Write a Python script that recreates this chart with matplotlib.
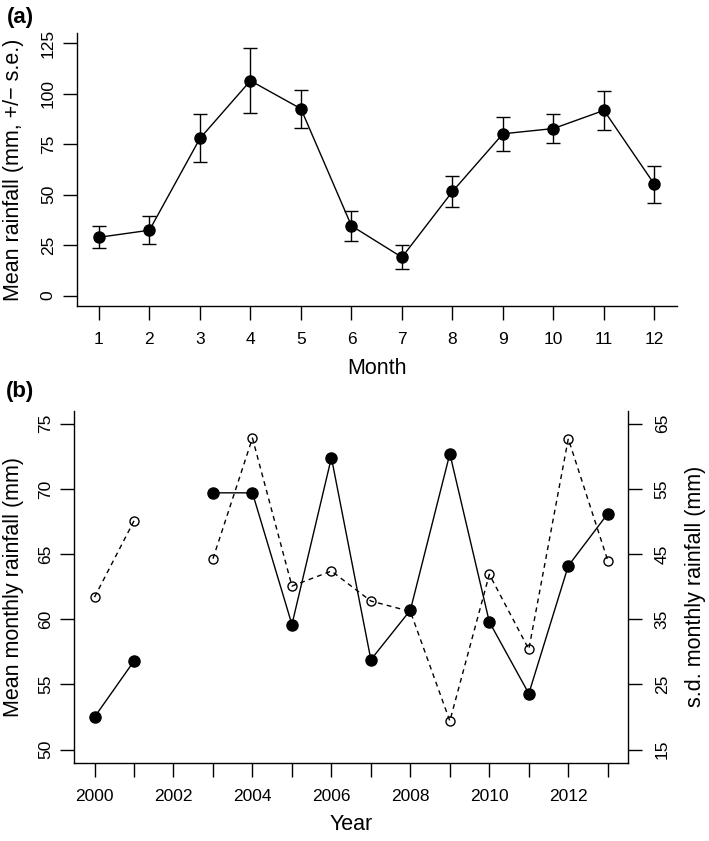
import numpy as np
import matplotlib
matplotlib.use("Agg")
import matplotlib.pyplot as plt

plt.rcParams["font.family"] = ["Liberation Sans", "DejaVu Sans"]

# panel (a): monthly means +/- s.e.
months = [1, 2, 3, 4, 5, 6, 7, 8, 9, 10, 11, 12]
mean_rain = [28.9, 32.4, 77.9, 106.5, 92.6, 34.6, 19.0, 51.6, 80.2, 82.8, 91.8, 55.1]
se_rain = [5.4, 7.0, 11.9, 16.2, 9.4, 7.5, 6.0, 7.9, 8.3, 7.3, 9.5, 9.1]

# panel (b): yearly mean and s.d. of monthly rainfall (2002 missing)
years = [2000, 2001, 2002, 2003, 2004, 2005, 2006, 2007, 2008, 2009, 2010, 2011, 2012, 2013]
mean_monthly = [52.5, 56.8, np.nan, 69.7, 69.7, 59.6, 72.4, 56.9, 60.7, 72.7, 59.8, 54.3, 64.1, 68.1]
sd_monthly = [38.4, 50.1, np.nan, 44.3, 62.8, 40.1, 42.4, 37.8, 36.2, 19.4, 41.9, 30.4, 62.7, 44.0]

W, H = 709, 841
fig = plt.figure(figsize=(W / 100, H / 100), dpi=100)

def frame(x0, y0, x1, y1):
    # pixel box -> figure fraction
    return [x0 / W, 1 - y1 / H, (x1 - x0) / W, (y1 - y0) / H]

tick_fs = 12.5
lab_fs = 15.5

# ---- (a)
ax_a = fig.add_axes(frame(76.7, 33.3, 676.7, 305.7))
ax_a.plot(months, mean_rain, color="black", lw=1.0, zorder=2)
ax_a.errorbar(months, mean_rain, yerr=se_rain, fmt="none", ecolor="black",
              elinewidth=1.0, capsize=5, capthick=1.0, zorder=2)
ax_a.plot(months, mean_rain, "o", color="black", ms=8, zorder=3)
ax_a.set_xlim(0.56, 12.44)
ax_a.set_ylim(-5, 130)
ax_a.set_xticks(months)
ax_a.set_yticks([0, 25, 50, 75, 100, 125])
ax_a.spines[["top", "right"]].set_visible(False)
ax_a.set_xlabel("Month", fontsize=lab_fs)
ax_a.set_ylabel("Mean rainfall (mm, +/\u2212 s.e.)", fontsize=lab_fs)
ax_a.xaxis.set_label_coords(376.7 / W, 1 - 368 / H, transform=fig.transFigure)
ax_a.yaxis.set_label_coords(14 / W, 1 - 169.5 / H, transform=fig.transFigure)
ax_a.xaxis.label.set_va("center")
ax_a.yaxis.label.set_va("center")

# ---- (b)
ax_b = fig.add_axes(frame(74, 410.7, 628.3, 762.7))
ax_b.plot(years, mean_monthly, "o-", color="black", lw=1.0, ms=8, zorder=3)
ax_b.set_xlim(1999.48, 2013.52)
ax_b.set_ylim(49, 76)
ax_b.set_xticks(years)
ax_b.set_xticklabels([str(y) if y % 2 == 0 else "" for y in years])
ax_b.set_yticks([50, 55, 60, 65, 70, 75])
ax_b.spines[["top", "right"]].set_visible(False)
ax_b.set_xlabel("Year", fontsize=lab_fs)
ax_b.set_ylabel("Mean monthly rainfall (mm)", fontsize=lab_fs)
ax_b.xaxis.set_label_coords(351 / W, 1 - 824 / H, transform=fig.transFigure)
ax_b.yaxis.set_label_coords(14 / W, 1 - 586.7 / H, transform=fig.transFigure)
ax_b.xaxis.label.set_va("center")
ax_b.yaxis.label.set_va("center")

ax_r = ax_b.twinx()
ax_r.plot(years, sd_monthly, "o--", color="black", lw=1.0, ms=6.5,
          mfc="none", mew=1.0, dashes=(3.5, 3), zorder=2)
ax_r.set_ylim(13, 67)
ax_r.set_yticks([15, 25, 35, 45, 55, 65])
ax_r.spines[["top", "left", "bottom"]].set_visible(False)
ax_r.set_ylabel("s.d. monthly rainfall (mm)", fontsize=lab_fs, rotation=90)
ax_r.yaxis.set_label_coords(695 / W, 1 - 586.7 / H, transform=fig.transFigure)
ax_r.yaxis.label.set_va("center")

for ax in (ax_a, ax_b, ax_r):
    ax.tick_params(direction="out", length=10, width=1.0, labelsize=tick_fs,
                   colors="black")
    ax.tick_params(axis="x", pad=9)
    ax.tick_params(axis="y", labelrotation=90, pad=5)
    for lbl in ax.get_yticklabels():
        lbl.set_va("center")
    for s in ax.spines.values():
        s.set_linewidth(1.0)
ax_r.tick_params(axis="y", pad=9)

fig.text(20 / W, 1 - 17 / H, "(a)", fontsize=16, fontweight="bold",
         ha="center", va="center")
fig.text(20 / W, 1 - 391 / H, "(b)", fontsize=16, fontweight="bold",
         ha="center", va="center")

fig.savefig("out.png", dpi=100)
